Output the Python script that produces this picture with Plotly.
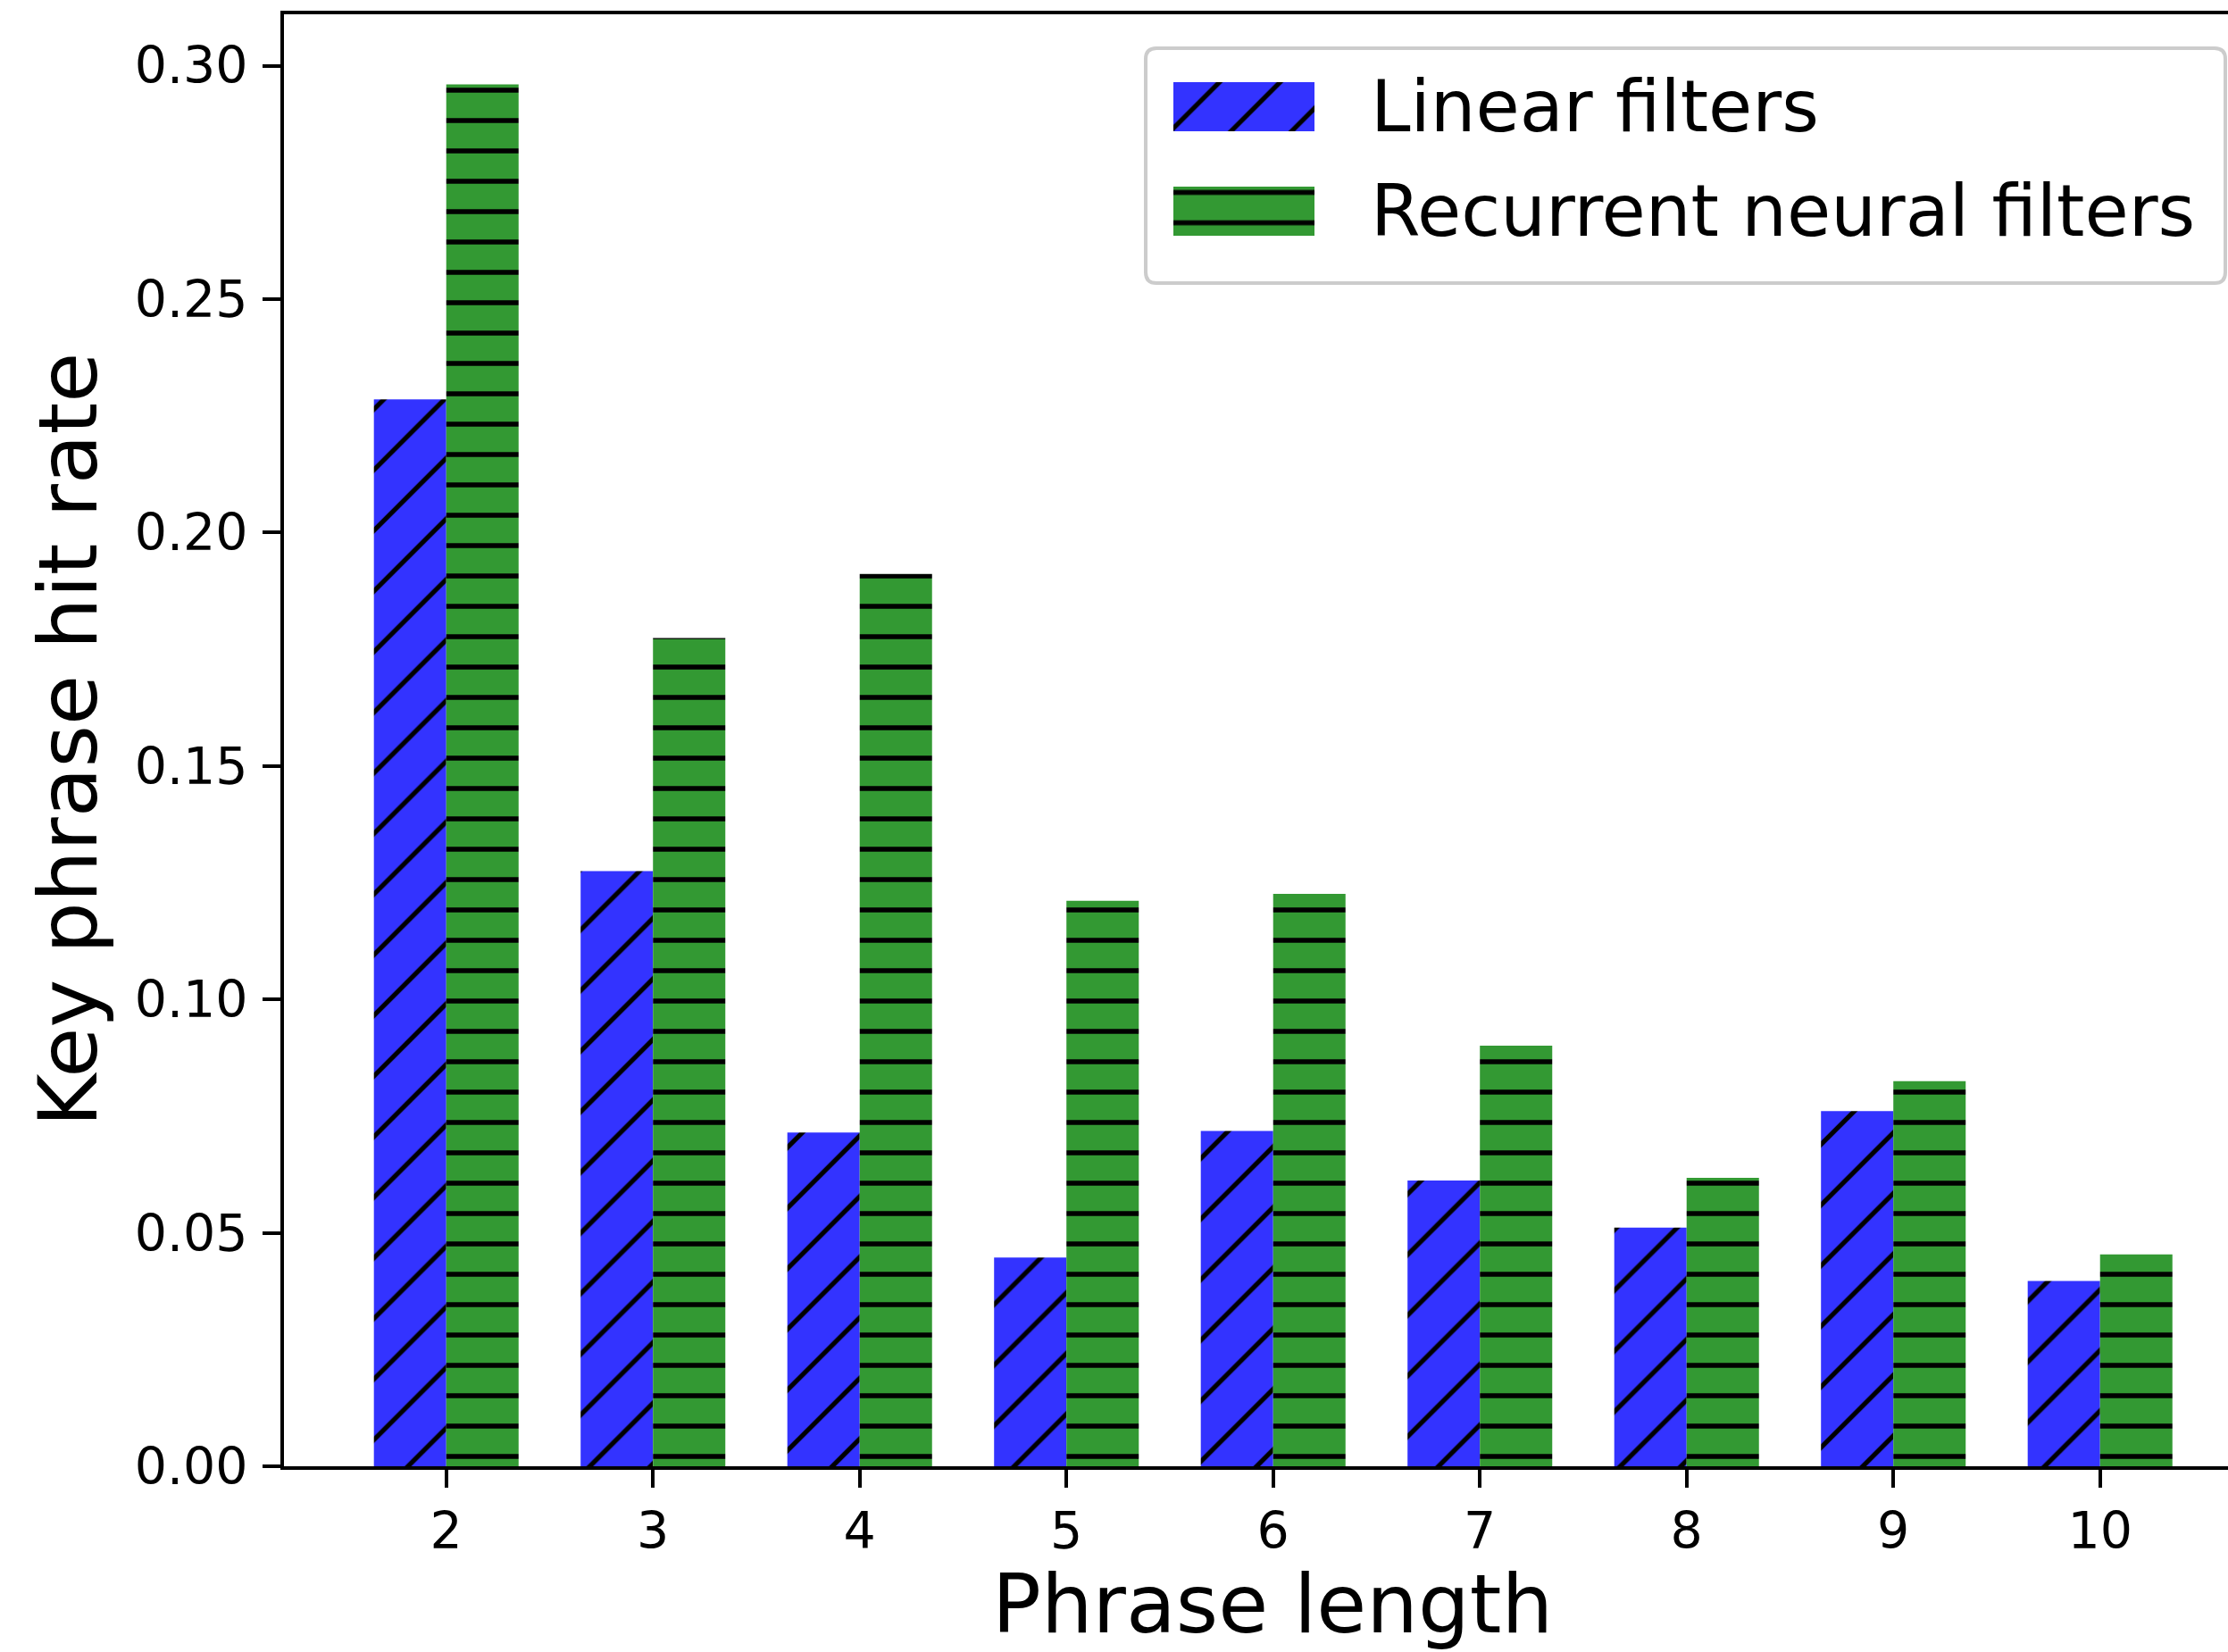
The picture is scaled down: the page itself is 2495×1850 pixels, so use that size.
import plotly.graph_objects as go

categories = [2, 3, 4, 5, 6, 7, 8, 9, 10]
linear_filters = [0.2285, 0.1275, 0.0715, 0.0447, 0.0718, 0.0612, 0.0511, 0.0761, 0.0397]
recurrent_filters = [0.2960, 0.1774, 0.1911, 0.1211, 0.1226, 0.0901, 0.0618, 0.0825, 0.0454]
series_names = ["Linear filters", "Recurrent neural filters"]
y_ticks = [0.00, 0.05, 0.10, 0.15, 0.20, 0.25, 0.30]

FONT = "DejaVu Sans"
W, H = 2495, 1850
L, T, B, R = 318, 16, 208, 0
PW, PH = W - L - R, H - T - B


def px_x(x):
    return (x - L) / PW


def px_y(y):
    return 1 - (y - T) / PH


BLUE, GREEN = "#3333ff", "#339933"

fig = go.Figure()
fig.add_trace(go.Bar(
    x=categories, y=linear_filters, name=series_names[0], legendgroup="a",
    marker=dict(color=BLUE, line=dict(width=0),
                pattern=dict(shape="/", size=48, solidity=0.11, fgcolor="black",
                             bgcolor=BLUE, fgopacity=1, fillmode="replace")),
))
fig.add_trace(go.Bar(
    x=categories, y=recurrent_filters, name=series_names[1], legendgroup="b",
    marker=dict(color=GREEN, line=dict(width=0),
                pattern=dict(shape="-", size=34, solidity=0.155, fgcolor="black",
                             bgcolor=GREEN, fgopacity=1, fillmode="replace")),
))

# legend frame (rounded rectangle)
x0, x1, y0, y1, rr = 1283, 2492, 54, 317, 12
path = (
    f"M{px_x(x0 + rr)},{px_y(y0)} L{px_x(x1 - rr)},{px_y(y0)} "
    f"Q{px_x(x1)},{px_y(y0)} {px_x(x1)},{px_y(y0 + rr)} "
    f"L{px_x(x1)},{px_y(y1 - rr)} Q{px_x(x1)},{px_y(y1)} {px_x(x1 - rr)},{px_y(y1)} "
    f"L{px_x(x0 + rr)},{px_y(y1)} Q{px_x(x0)},{px_y(y1)} {px_x(x0)},{px_y(y1 - rr)} "
    f"L{px_x(x0)},{px_y(y0 + rr)} Q{px_x(x0)},{px_y(y0)} {px_x(x0 + rr)},{px_y(y0)} Z"
)
fig.add_shape(type="path", path=path, xref="paper", yref="paper",
              fillcolor="white", line=dict(color="#cccccc", width=4), layer="above")

fig.update_layout(
    width=W, height=H,
    margin=dict(l=L, r=R, t=T, b=B, pad=0),
    paper_bgcolor="white", plot_bgcolor="white",
    barmode="group", bargap=0.3, bargroupgap=0,
    font=dict(family=FONT, color="black", size=57),
    showlegend=True,
    legend=dict(
        x=px_x(1285), y=px_y(57),
        xanchor="left", yanchor="top",
        bgcolor="rgba(0,0,0,0)", borderwidth=0,
        font=dict(family=FONT, size=80, color="black"),
        itemwidth=240, tracegroupgap=10,
    ),
)

fig.update_xaxes(
    range=[1.215, 1.215 + PW / 231.5],
    tickmode="array", tickvals=categories, ticktext=[str(c) for c in categories],
    ticks="outside", ticklen=20, tickwidth=4, tickcolor="black",
    showline=True, linecolor="black", linewidth=4, mirror=True,
    showgrid=False, zeroline=False,
    tickfont=dict(family=FONT, size=57, color="black"),
)
fig.update_yaxes(
    range=[0, 0.311],
    tickmode="array", tickvals=y_ticks, ticktext=[f"{v:.2f}" for v in y_ticks],
    ticks="outside", ticklen=20, tickwidth=4, tickcolor="black",
    showline=True, linecolor="black", linewidth=4, mirror=False,
    showgrid=False, zeroline=False, ticklabelstandoff=5,
    tickfont=dict(family=FONT, size=57, color="black"),
)

fig.add_annotation(
    text="Phrase length", xref="paper", yref="paper",
    x=px_x(1425), y=0, xanchor="center", yanchor="middle",
    yshift=-(1796 - (H - B)), showarrow=False,
    font=dict(family=FONT, size=91, color="black"),
)
fig.add_annotation(
    text="Key phrase hit rate", xref="paper", yref="paper",
    x=px_x(76), y=0.5, xanchor="center", yanchor="middle",
    textangle=-90, showarrow=False,
    font=dict(family=FONT, size=91, color="black"),
)

# enlarge legend swatches to matplotlib-style patches using the bars' own fills
post = """
var gd = document.getElementById('{plot_id}');
var bars = gd.querySelectorAll('.barlayer .trace');
var items = gd.querySelectorAll('.legend .traces');
items.forEach(function(item, i) {
  var p = item.querySelector('.legendpoints path');
  var src = bars[i] ? bars[i].querySelector('.point path') : null;
  if (p) {
    p.setAttribute('d', 'M-96,-23.4H62V31.6H-96Z');
    if (src) { p.style.fill = src.style.fill; }
    p.style.strokeWidth = '0px';
  }
});
"""

fig.write_html("out.html", post_script=post)
